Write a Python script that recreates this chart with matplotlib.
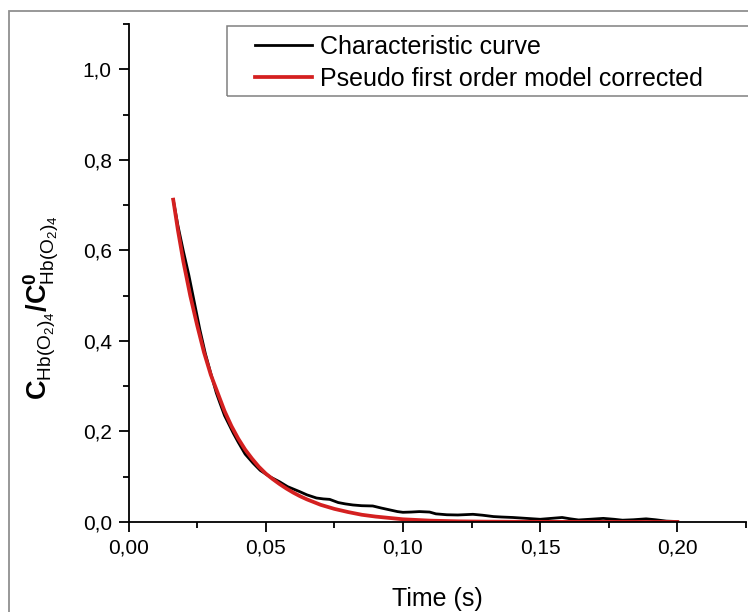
import matplotlib
matplotlib.use("Agg")
import matplotlib.pyplot as plt
from matplotlib.patches import Rectangle
from matplotlib.ticker import MultipleLocator, FuncFormatter

plt.rcParams['font.family'] = ['Liberation Sans', 'DejaVu Sans']
plt.rcParams['mathtext.fontset'] = 'custom'
plt.rcParams['mathtext.rm'] = 'Liberation Sans'
plt.rcParams['mathtext.bf'] = 'Liberation Sans:bold'
plt.rcParams['mathtext.it'] = 'Liberation Sans:italic'

# Characteristic curve (measured)
char_t = [0.0163, 0.018, 0.020, 0.022, 0.024, 0.026, 0.028, 0.030, 0.032, 0.0333,
          0.035, 0.0382, 0.040, 0.0425, 0.0454, 0.048, 0.0515, 0.055, 0.058, 0.0624,
          0.065, 0.0685, 0.071, 0.0733, 0.0764, 0.079, 0.0818, 0.085, 0.089, 0.092,
          0.095, 0.098, 0.100, 0.103, 0.106, 0.1097, 0.112, 0.116, 0.120, 0.1255,
          0.129, 0.133, 0.136, 0.140, 0.145, 0.150, 0.154, 0.158, 0.161, 0.164,
          0.168, 0.173, 0.177, 0.180, 0.184, 0.1886, 0.192, 0.196, 0.200]
char_v = [0.712, 0.655, 0.598, 0.545, 0.485, 0.425, 0.372, 0.328, 0.285, 0.263,
          0.235, 0.196, 0.176, 0.150, 0.130, 0.114, 0.100, 0.089, 0.078, 0.067,
          0.060, 0.053, 0.051, 0.050, 0.043, 0.040, 0.0376, 0.036, 0.0354, 0.031,
          0.027, 0.023, 0.0214, 0.022, 0.023, 0.022, 0.018, 0.016, 0.0155, 0.017,
          0.015, 0.012, 0.011, 0.010, 0.008, 0.006, 0.008, 0.010, 0.007, 0.0045,
          0.006, 0.008, 0.006, 0.004, 0.005, 0.007, 0.005, 0.002, 0.001]

# Pseudo first order model corrected
model_t = [0.0163, 0.018, 0.020, 0.0225, 0.025, 0.0275, 0.030, 0.0325, 0.035, 0.0375,
           0.040, 0.0425, 0.045, 0.0475, 0.050, 0.0525, 0.055, 0.0575, 0.060, 0.0625,
           0.065, 0.0675, 0.070, 0.075, 0.080, 0.085, 0.090, 0.095, 0.100, 0.110,
           0.120, 0.130, 0.150, 0.200]
model_v = [0.712, 0.645, 0.575, 0.500, 0.435, 0.375, 0.325, 0.285, 0.245, 0.212,
           0.184, 0.160, 0.140, 0.122, 0.107, 0.095, 0.084, 0.074, 0.065, 0.057,
           0.050, 0.044, 0.038, 0.029, 0.022, 0.016, 0.012, 0.009, 0.006, 0.003,
           0.0015, 0.0008, 0.0003, 0.0]

labels = ["Characteristic curve", "Pseudo first order model corrected"]

W, H = 748, 612
fig = plt.figure(figsize=(W / 100, H / 100), dpi=100)
ax = fig.add_axes([128.5 / W, 1 - 522 / H, (746 - 128.5) / W, (522 - 24) / H])

ax.plot(char_t, char_v, color='black', lw=2.0, label=labels[0])
ax.plot(model_t, model_v, color='#d42020', lw=2.7, label=labels[1])

ax.set_xlim(0, 0.225)
ax.set_ylim(0, 1.1)
for s in ['top', 'right']:
    ax.spines[s].set_visible(False)
for s in ['left', 'bottom']:
    ax.spines[s].set_linewidth(1.3)

ax.xaxis.set_major_locator(MultipleLocator(0.05))
ax.xaxis.set_minor_locator(MultipleLocator(0.025))
ax.yaxis.set_major_locator(MultipleLocator(0.2))
ax.yaxis.set_minor_locator(MultipleLocator(0.1))
ax.xaxis.set_major_formatter(FuncFormatter(lambda v, p: f"{v:.2f}".replace('.', ',')))
ax.yaxis.set_major_formatter(FuncFormatter(lambda v, p: f"{v:.1f}".replace('.', ',')))
ax.tick_params(which='major', direction='out', length=7.5, width=1.3, labelsize=15, pad=4.5)
ax.tick_params(which='minor', direction='out', length=4.5, width=1.3)

ax.set_xlabel("Time (s)", fontsize=18, labelpad=21)
fig.text(41 / W, 1 - 308 / H,
         r'$\mathbf{C}_{\mathrm{Hb(O_2)_4}}\mathbf{/C}^{\mathbf{0}}_{\mathrm{Hb(O_2)_4}}$',
         rotation=90, ha='center', va='center', fontsize=19.5)

leg = ax.legend(loc='upper left', bbox_to_anchor=(255 / W, 1 - 35 / H),
                bbox_transform=fig.transFigure, frameon=False, fontsize=18,
                handlelength=2.28, handletextpad=0.32, labelspacing=0.32,
                borderpad=0, borderaxespad=0)

# legend box and outer frame
fig.patches.append(Rectangle((227 / W, 1 - 96 / H), (760 - 227) / W, 70 / H,
                             transform=fig.transFigure, fill=False,
                             edgecolor='#808080', lw=1.1, clip_on=False))
fig.patches.append(Rectangle((9 / W, -0.05), 1.2, 1.05 - 10.5 / H,
                             transform=fig.transFigure, fill=False,
                             edgecolor='#909090', lw=1.3, clip_on=False))

fig.savefig("out.png", dpi=100)
